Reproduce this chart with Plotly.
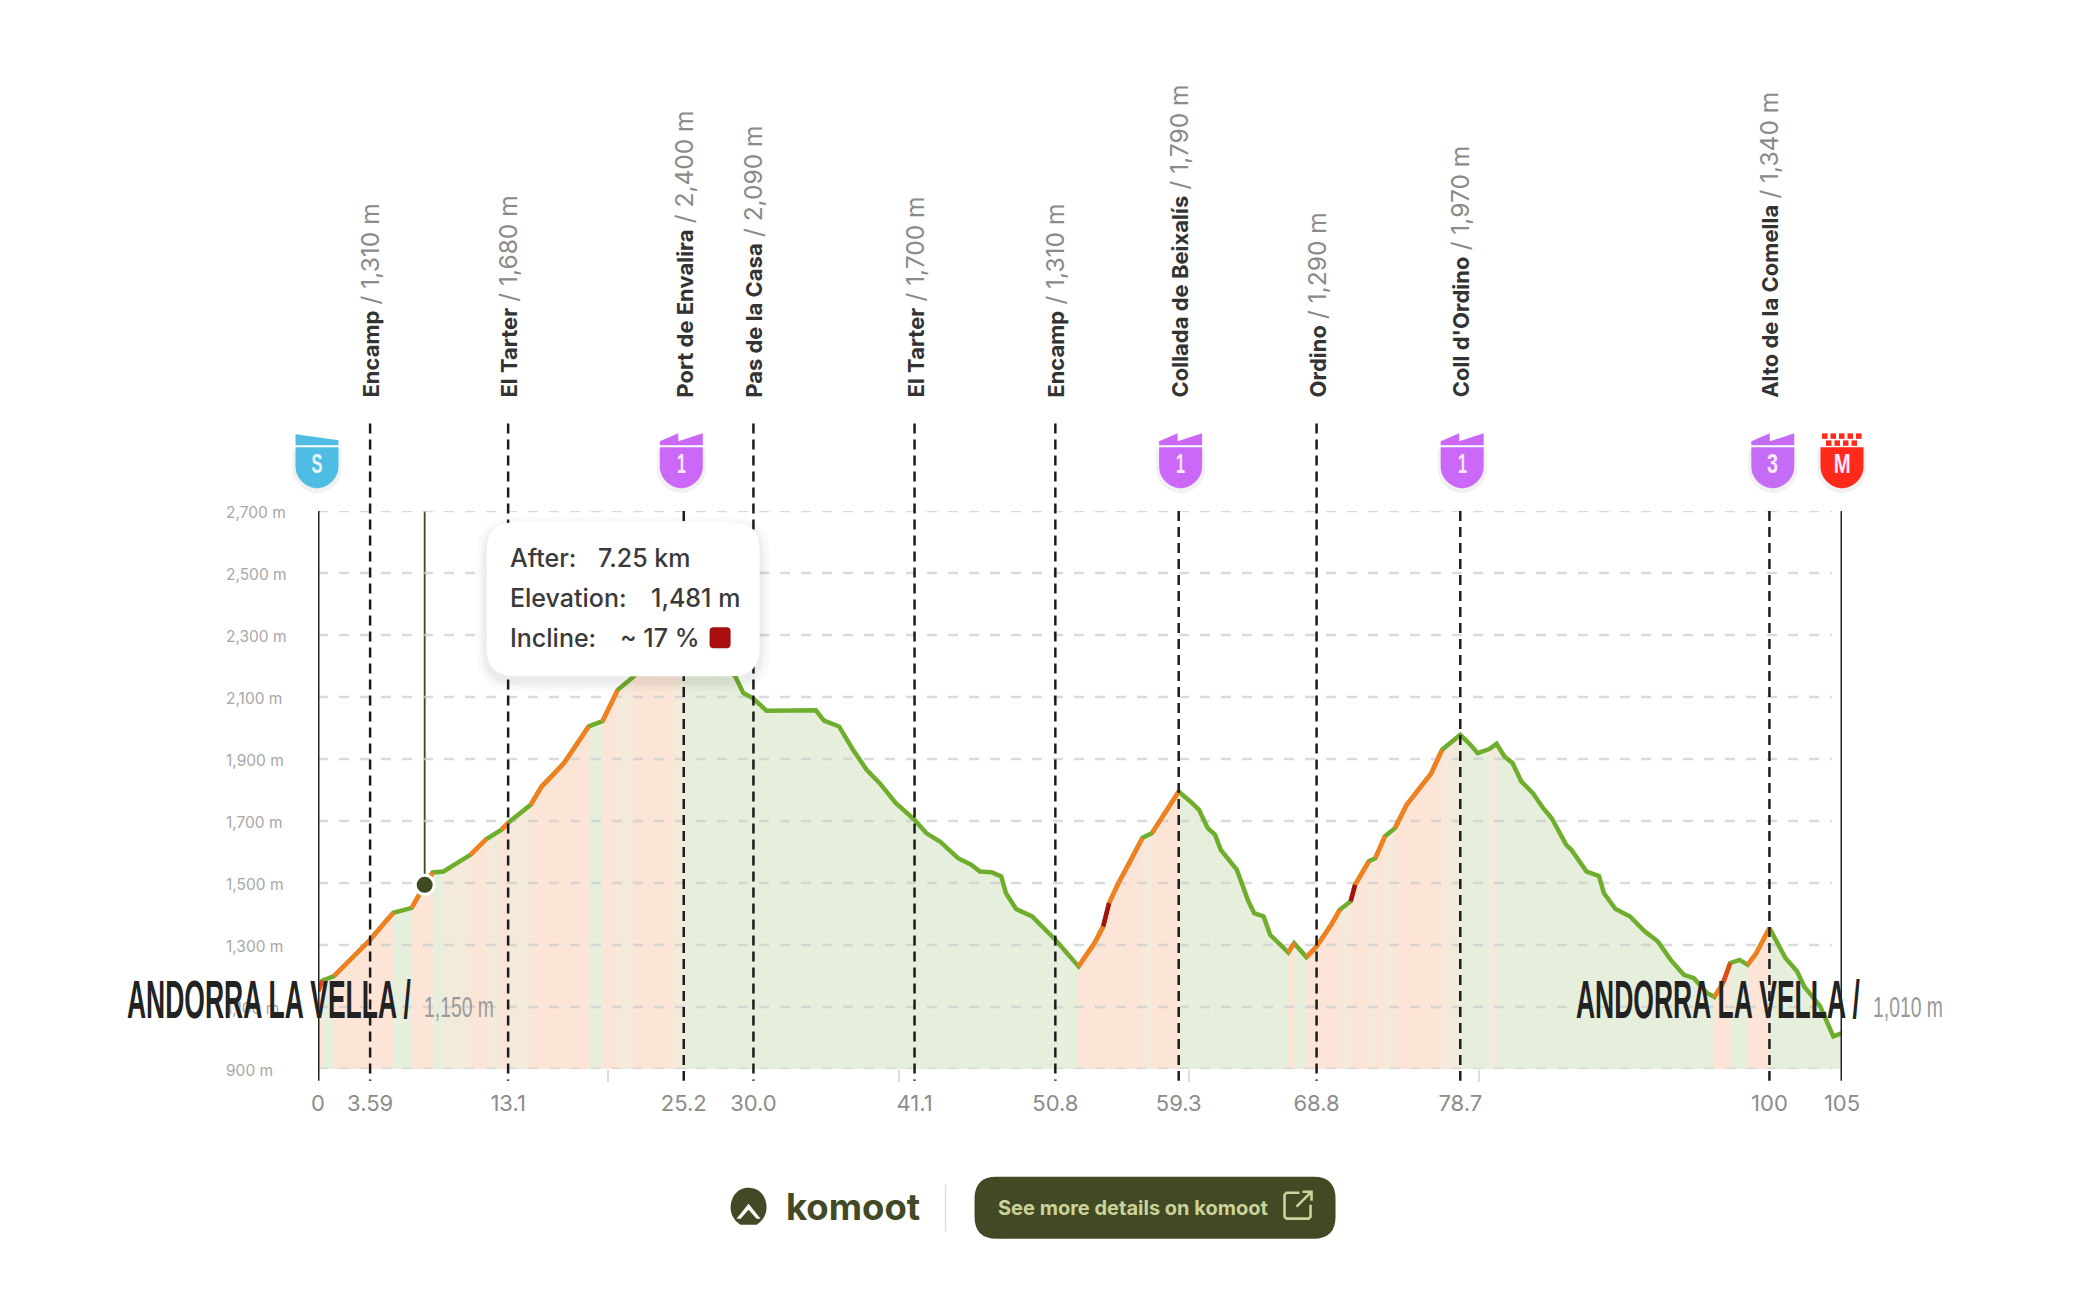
import numpy as np
import plotly.graph_objects as go

# ---------- data ----------
km = [0,0.3,1.1,2.45,3.59,4.75,5.2,6.45,7.35,7.9,8.65,9.7,10.5,11.6,12.65,13.1,14.65,15.4,16.2,16.95,18.65,19.6,20.65,21.75,
      23,24.5,25.2,26.5,28,28.75,29.3,30,30.9,33.17,34.3,34.86,35.9,36.86,37.8,38.7,39.8,41.1,41.9,42.85,44.1,45,45.6,46.4,47.07,
      47.4,48.1,49.2,50.1,50.8,52.4,53.5,54.1,54.5,55.15,55.9,56.8,57.46,58.2,59.3,60.1,60.7,61.3,61.8,62.2,63.3,64.1,64.5,65.15,
      65.6,66.85,67.25,68.1,68.8,69.8,70.4,71.15,71.45,72.4,72.85,73.5,74.2,75,75.9,76.7,77.45,78.7,79.4,79.9,80.7,81.2,81.74,82.3,
      82.9,83.7,84.4,85,86,86.35,87.4,88.25,88.6,89.4,90.4,91.4,92.3,93.2,94.1,94.8,95.7,96.2,96.8,97.3,97.95,98.5,99.1,100,101.1,
      101.9,102.4,103.5,104.4,105]
ele = [1150,1185,1200,1263,1317,1381,1404,1420,1494,1534,1537,1569,1591,1642,1672,1694,1752,1811,1849,1887,2005,2022,2123,2166,
       2270,2375,2400,2360,2210,2166,2113,2095,2056,2057,2057,2024,2005,1930,1865,1822,1758,1704,1661,1634,1580,1559,1537,1535,1521,
       1467,1416,1392,1349,1317,1231,1306,1360,1435,1500,1564,1645,1661,1715,1795,1763,1736,1677,1656,1607,1543,1441,1403,1392,
       1333,1276,1306,1261,1295,1365,1414,1441,1494,1570,1580,1650,1677,1752,1806,1854,1930,1978,1946,1919,1932,1949,1908,1887,
       1828,1790,1742,1709,1623,1607,1537,1523,1467,1416,1392,1344,1312,1252,1204,1193,1145,1132,1177,1242,1252,1236,1274,1355,1258,
       1215,1166,1102,1005,1016]

y_ticks = [900,1100,1300,1500,1700,1900,2100,2300,2500,2700]
y_labels = ["900 m","1,100 m","1,300 m","1,500 m","1,700 m","1,900 m","2,100 m","2,300 m","2,500 m","2,700 m"]
x_ticks = [0,3.59,13.1,25.2,30.0,41.1,50.8,59.3,68.8,78.7,100,105]
x_labels = ["0","3.59","13.1","25.2","30.0","41.1","50.8","59.3","68.8","78.7","100","105"]
minor_ticks = [20,40,60,80]

way_km = [3.59,13.1,25.2,30.0,41.1,50.8,59.3,68.8,78.7,100]
way_name = ["Encamp","El Tarter","Port de Envalira","Pas de la Casa","El Tarter","Encamp",
            "Collada de Beixalís","Ordino","Coll d'Ordino","Alto de la Comella"]
way_ele = ["1,310 m","1,680 m","2,400 m","2,090 m","1,700 m","1,310 m","1,790 m","1,290 m","1,970 m","1,340 m"]
climb_km = [25.2,59.3,78.7,100]

badge_km = [0,25.1,59.5,78.9,100.3,105]
badge_txt = ["S","1","1","1","3","M"]
badge_col = ["#4FBDE3","#CB68F7","#CB68F7","#CB68F7","#C56CF7","#FF2A1A"]

stripes_warm = [47.35,51.7,52.0,61.5,64.0,66.9,67.2,88.55,93.0,96.4,98.9,100.3]
stripes_cool = [14.2,15.4,16.3,17.0,17.6,20.3,21.0,22.0,23.2,24.1,25.6,26.1,70.0,72.1,74.6,76.4,79.0,80.3,81.3,82.4,83.6,85.2,
                86.3,101.5,102.5,103.3]
stripes_rose = [54.4,54.8,55.3,58.2,71.3,72.7]

hover_km, hover_ele = 7.35, 1494
LINE_G, LINE_O, LINE_R, LINE_D = "#6EAE2C", "#F47E20", "#E2481E", "#A81010"
FILL_G, FILL_O, FILL_Y = "#E6EFDC", "#FCE4D6", "#F4EADB"
OLIVE = "#414A24"

# ---------- pixel helpers for page furniture ----------
L, R, T, B = 318.4, 1842.5, 510.7, 1069.2
PX = lambda p: (p - L) / (R - L)
PY = lambda p: (B - p) / (B - T)
KX = lambda k: L + k / 105 * (R - L)

def P(*items):
    out = []
    for it in items:
        if isinstance(it, str):
            out.append(it)
        else:
            out.append(f"{PX(it[0]):.5f},{PY(it[1]):.5f}")
    return " ".join(out)

def rrect(x0, y0, x1, y1, r):
    return P("M",(x0+r,y0),"L",(x1-r,y0),"Q",(x1,y0),(x1,y0+r),"L",(x1,y1-r),"Q",(x1,y1),(x1-r,y1),
             "L",(x0+r,y1),"Q",(x0,y1),(x0,y1-r),"L",(x0,y0+r),"Q",(x0,y0),(x0+r,y0),"Z")

def pshape(path, fill="rgba(0,0,0,0)", line=None, w=0):
    return dict(type="path", path=path, xref="paper", yref="paper", layer="above", fillcolor=fill,
                line=dict(color=line or "rgba(0,0,0,0)", width=w))

# ---------- classify segments ----------
km_a, ele_a = np.array(km, float), np.array(ele, float)
grade = np.diff(ele_a) / (np.diff(km_a) * 1000) * 100

def polys(mask):
    xs, ys = [], []
    for i in np.where(mask)[0]:
        xs += [km[i], km[i+1], km[i+1], km[i], km[i], None]
        ys += [ele[i], ele[i+1], 900, 900, ele[i], None]
    return xs, ys

def segs(mask):
    xs, ys = [], []
    for i in np.where(mask)[0]:
        xs += [km[i], km[i+1], None]
        ys += [ele[i], ele[i+1], None]
    return xs, ys

fig = go.Figure()
for mask, col in [(grade < 2.0, FILL_G), ((grade >= 2.0) & (grade < 4.5), FILL_Y), (grade >= 4.5, FILL_O)]:
    x, y = polys(mask)
    fig.add_trace(go.Scatter(x=x, y=y, mode="lines", fill="toself", fillcolor=col,
                             line=dict(width=0.5, color=col), hoverinfo="skip", showlegend=False))

for pos, col, w in [(stripes_warm, "#F9E6D8", 0.3), (stripes_cool, "#F7E9DC", 0.3), (stripes_rose, "#EFD6D8", 0.22)]:
    fig.add_trace(go.Bar(x=pos, y=np.interp(pos, km, ele) - 900, base=900, width=w,
                         marker=dict(color=col, line=dict(width=0)), hoverinfo="skip", showlegend=False))

gx, gy = [], []
for v in y_ticks:
    gx += [0, 104.3, None]
    gy += [v, v, None]
fig.add_trace(go.Scatter(x=gx, y=gy, mode="lines", cliponaxis=False, hoverinfo="skip", showlegend=False,
                         line=dict(color="rgba(205,205,205,0.75)", width=2.5, dash="10px,11px")))

fig.add_trace(go.Scatter(x=km, y=ele, mode="lines", line=dict(color=LINE_G, width=4.5), hoverinfo="skip", showlegend=False))
for mask, col in [((grade >= 4.5) & (grade < 11), LINE_O), ((grade >= 11) & (grade < 14), LINE_R), (grade >= 14, LINE_D)]:
    x, y = segs(mask)
    fig.add_trace(go.Scatter(x=x, y=y, mode="lines", line=dict(color=col, width=4.5), hoverinfo="skip", showlegend=False))

fig.add_trace(go.Scatter(x=[hover_km], y=[hover_ele], mode="markers", cliponaxis=False, hoverinfo="skip", showlegend=False,
                         marker=dict(size=19, color="#3F4A20", line=dict(color="white", width=3))))

# ---------- shapes ----------
shapes = []
for k in way_km:
    top = 510.7 if k in climb_km else 423
    shapes.append(dict(type="line", xref="x", yref="paper", x0=k, x1=k, y0=PY(top), y1=PY(1081), layer="above",
                       line=dict(color="#1c1c1c", width=2.5, dash="10px,6px")))
for k in [0, 105]:
    shapes.append(dict(type="line", xref="x", yref="paper", x0=k, x1=k, y0=PY(510.7), y1=PY(1081), layer="above",
                       line=dict(color="#222", width=3)))
shapes.append(dict(type="line", xref="x", yref="paper", x0=hover_km, x1=hover_km, y0=PY(510.7), y1=PY(1069), layer="below",
                   line=dict(color="#3F4A20", width=1.8)))

# badges
for k, t, c in zip(badge_km, badge_txt, badge_col):
    cx = KX(k) - (1 if k != 105 else 0)
    hw = 21.5
    body = P("M",(cx-hw,447),"L",(cx+hw,447),"L",(cx+hw,466),"C",(cx+hw,480),(cx+9,488),(cx,488),
             "C",(cx-9,488),(cx-hw,480),(cx-hw,466),"Z")
    shapes.append(pshape(P("M",(cx-hw-3,449),"L",(cx+hw+3,449),"L",(cx+hw+3,468),"C",(cx+hw+3,484),(cx+10,493),(cx,493),
                           "C",(cx-10,493),(cx-hw-3,484),(cx-hw-3,468),"Z"), fill="rgba(120,120,120,0.10)"))
    shapes.append(pshape(body, fill=c))
    if t == "S":
        shapes.append(pshape(P("M",(cx-hw,434),"L",(cx+hw,440),"L",(cx+hw,445),"L",(cx-hw,445),"Z"), fill=c))
    elif t == "M":
        for row, off in [(433, 0), (440, 4)]:
            for i in range(-2, 3):
                sx = cx + i * 8.5 + off - 3
                if sx + 6 <= cx + hw + 1:
                    shapes.append(dict(type="rect", xref="paper", yref="paper", layer="above", x0=PX(sx), x1=PX(sx+5.5),
                                       y0=PY(row+5.5), y1=PY(row), fillcolor=c, line=dict(width=0)))
    else:
        shapes.append(pshape(P("M",(cx-hw,445),"L",(cx-hw,441),"L",(cx-3,433),"L",(cx-3,441),"L",(cx+hw,433),"L",(cx+hw,445),"Z"), fill=c))

# tooltip
for grow, a in [(10, 0.025), (6, 0.03), (3, 0.04)]:
    shapes.append(pshape(rrect(487-grow, 522-grow+5, 760+grow, 676+grow+5, 28+grow), fill=f"rgba(60,60,60,{a})"))
shapes.append(pshape(rrect(487, 522, 760, 676, 28), fill="#ffffff"))
shapes.append(pshape(rrect(710, 627, 731, 648, 4), fill="#A70E0E"))

# footer
shapes.append(pshape(rrect(975, 1177, 1336, 1239, 22), fill=OLIVE))
shapes.append(dict(type="line", xref="paper", yref="paper", layer="above", x0=PX(946), x1=PX(946), y0=PY(1185), y1=PY(1232),
                   line=dict(color="#dddddd", width=1.5)))
shapes.append(pshape(P("M",(749,1188),"C",(761,1188),(767,1198),(767,1208),"C",(767,1216),(762,1222),(757,1225),"L",(741,1225),
                       "C",(736,1222),(731,1216),(731,1208),"C",(731,1198),(737,1188),(749,1188),"Z"), fill=OLIVE))
shapes.append(pshape(P("M",(749,1204),"L",(761,1219),"L",(757,1219),"L",(749,1210),"L",(741,1219),"L",(737,1219),"Z"), fill="#ffffff"))
shapes.append(pshape(P("M",(1300,1193),"L",(1287,1193),"L",(1285,1195),"L",(1285,1217),"L",(1287,1219),"L",(1309,1219),"L",(1311,1217),"L",(1311,1205)),
                     line="#CBD39A", w=2.6))
shapes.append(pshape(P("M",(1297,1207),"L",(1311,1193),"M",(1303,1192),"L",(1312,1192),"L",(1312,1201)), line="#CBD39A", w=2.6))

# ---------- text ----------
ann = []
def txt(x, y, s, size, color, anchor="left", family="Inter", yanchor="middle", angle=0, xref="paper", yref="paper", weight=None):
    f = dict(size=size, color=color, family=family)
    if weight:
        f["weight"] = weight
    ann.append(dict(x=x, y=y, xref=xref, yref=yref, text=s, showarrow=False, xanchor=anchor, yanchor=yanchor, textangle=angle,
                    font=f, align="left"))

for v, s in zip(y_ticks, y_labels):
    ann.append(dict(x=PX(224), y=v, xref="paper", yref="y", text=s, showarrow=False, xanchor="left", yanchor="middle", yshift=-1,
                    font=dict(size=15.5, color="#a8a8a8", family="Inter")))
for k, n, e in zip(way_km, way_name, way_ele):
    txt(k, PY(399), f"<b>{n}</b> <span style='color:#8a8a8a;font-size:24.5px'>/ {e}</span>", 22, "#333333",
        anchor="center", yanchor="bottom", angle=-90, xref="x")
for k, t in zip(badge_km, badge_txt):
    cx = KX(k) - (1 if k != 105 else 0)
    txt(PX(cx), PY(464), f"<b>{t}</b>", 27, "#FBE9FF" if t != "S" else "#E6F7FD", anchor="center", family="Liberation Sans")

txt(PX(125), PY(1000), "<b>ANDORRA LA VELLA /</b>", 53, "#222222", family="Liberation Sans")
txt(PX(422), PY(1007), "1,150 m", 30, "#9a9a9a", family="Liberation Sans")
txt(PX(1574), PY(1000), "<b>ANDORRA LA VELLA /</b>", 53, "#222222", family="Liberation Sans")
txt(PX(1872), PY(1007), "1,010 m", 30, "#9a9a9a", family="Liberation Sans")

for y, a, va, vx in [(558, "After:", "7.25 km", 596), (598, "Elevation:", "1,481 m", 649), (638, "Incline:", "~ 17 %", 618)]:
    txt(PX(508), PY(y), a, 25, "#3a3a3a", weight=500)
    txt(PX(vx), PY(y), va, 25, "#3a3a3a", weight=500)

txt(PX(784), PY(1207), "<b>komoot</b>", 36.5, OLIVE)
txt(PX(996), PY(1208), "<b>See more details on komoot</b>", 20, "#CBD39A")

fig.update_layout(
    width=2080, height=1302, autosize=False,
    margin=dict(l=L, r=2080-R, t=T, b=1302-B, pad=0),
    paper_bgcolor="white", plot_bgcolor="white", barmode="overlay", bargap=0,
    showlegend=False, hovermode=False, shapes=shapes, annotations=ann,
    xaxis=dict(range=[0, 105], showgrid=False, zeroline=False, showline=False, tickmode="array",
               tickvals=x_ticks, ticktext=x_labels, ticks="outside", ticklen=15, tickcolor="rgba(0,0,0,0)",
               tickfont=dict(size=22, color="#8c8c8c", family="Inter"),
               minor=dict(tickmode="array", tickvals=minor_ticks, ticks="outside", ticklen=12, tickcolor="#dcdcdc", tickwidth=1.5)),
    yaxis=dict(range=[900, 2700], showgrid=False, zeroline=False, showline=False, showticklabels=False, ticks=""),
)

post = """
document.body.style.margin='0';
document.querySelectorAll('.annotation-text').forEach(function(t){
  var s=t.textContent, target=0, origin='left center';
  if(s.indexOf('ANDORRA')===0){target=284;}
  else if(/^1,(150|010) m$/.test(s)){target=70;}
  else if(/^[S13M]$/.test(s)){target=s==='M'?17:(s==='1'?9:11);origin='center center';}
  if(target){
    var w=t.getBBox().width;
    t.style.transformBox='fill-box';t.style.transformOrigin=origin;
    t.style.transform='scaleX('+(target/w)+')';
  }
});
"""
fig.write_html("out.html", config=dict(displayModeBar=False), post_script=post)
